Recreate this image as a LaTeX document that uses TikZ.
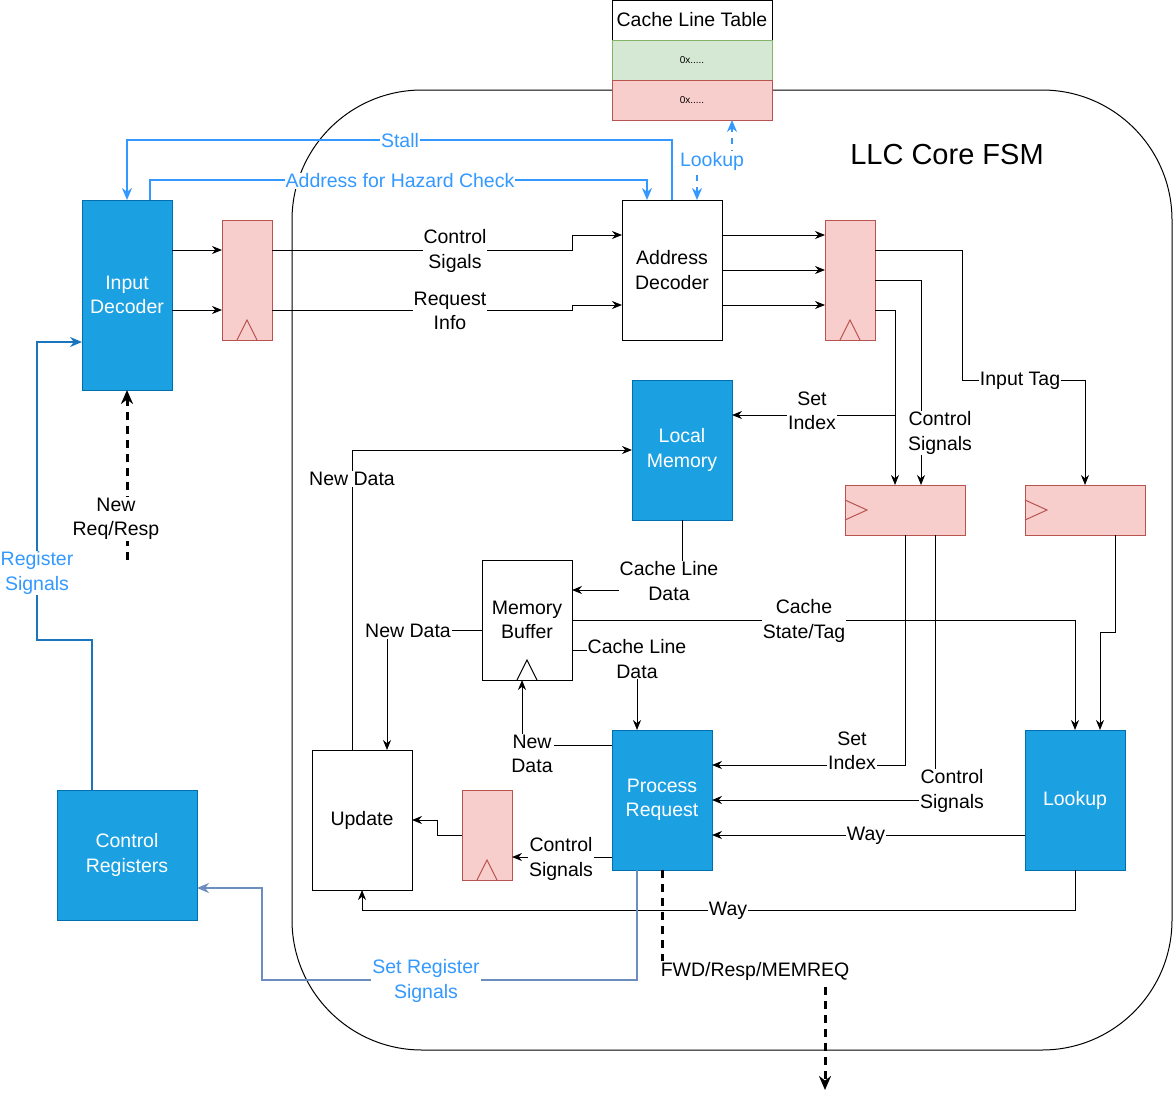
\documentclass[tikz,border=0pt]{standalone}
\usepackage{fontspec}
\setmainfont{Liberation Sans}
\usetikzlibrary{arrows.meta,calc}
\definecolor{fsmblue}{HTML}{1BA1E2}
\definecolor{fsmedge}{HTML}{006EAF}
\definecolor{regfill}{HTML}{F8CECC}
\definecolor{regedge}{HTML}{B85450}
\definecolor{okfill}{HTML}{D5E8D4}
\definecolor{okedge}{HTML}{82B366}
\definecolor{sigblue}{HTML}{3399FF}
\definecolor{regsig}{HTML}{1B75BC}
\definecolor{setsig}{HTML}{6C8EBF}
\newcommand{\clkup}[2][regedge]{\draw[#1] (#2.south) ++(-10,0) -- ++(10,-20) -- ++(10,20);}
\newcommand{\clkleft}[1]{\draw[regedge] (#1.west) ++(0,-10) -- ++(22,10) -- ++(-22,10);}
\begin{document}
\begin{tikzpicture}[x=1pt,y=-1pt,line width=1pt,
    every node/.style={font=\fontsize{19.5}{24.5}\selectfont},
    box/.style={draw,fill=white,inner sep=0pt,outer sep=0pt,align=center},
    fsm/.style={box,draw=fsmedge,fill=fsmblue,text=white},
    reg/.style={box,draw=regedge,fill=regfill},
    lbl/.style={fill=white,inner sep=1pt,align=center,yshift=-1pt},
    blbl/.style={lbl,text=sigblue},
    wire/.style={-{Stealth[length=10pt,width=8pt]}},
    bwire/.style={line width=2pt,-{Stealth[length=12pt,width=10pt]}},
    bus/.style={line width=3pt,dash pattern=on 8pt off 6pt,-{Stealth[length=14pt,width=12pt]}}]
  \useasboundingbox (0,0) rectangle (1173,1100);
  % core
  \node[draw,rounded corners=130pt,minimum width=880pt,minimum height=960pt,inner sep=0pt] (core) at (732,570) {};
  \node (title) at (947,155) {\fontsize{29}{34}\selectfont LLC Core FSM};
  % cache line table
  \node[box,minimum width=160pt,minimum height=40pt] (tabhead) at (692,20) {Cache Line Table};
  \node[box,draw=okedge,fill=okfill,minimum width=160pt,minimum height=40pt,font=\fontsize{10}{12}\selectfont] (tabrow1) at (692,60) {0x.....};
  \node[box,draw=regedge,fill=regfill,minimum width=160pt,minimum height=40pt,font=\fontsize{10}{12}\selectfont] (tabrow2) at (692,100) {0x.....};
  % blocks
  \node[fsm,minimum width=90pt,minimum height=190pt] (indec) at (127,295) {Input\\Decoder};
  \node[fsm,minimum width=140pt,minimum height=130pt] (ctrlreg) at (127,855) {Control\\Registers};
  \node[box,minimum width=100pt,minimum height=140pt] (addec) at (672,270) {Address\\Decoder};
  \node[fsm,minimum width=100pt,minimum height=140pt] (locmem) at (682,450) {Local\\Memory};
  \node[box,minimum width=90pt,minimum height=120pt] (membuf) at (527,620) {Memory\\Buffer};
  \node[box,minimum width=100pt,minimum height=140pt] (update) at (362,820) {Update};
  \node[fsm,minimum width=100pt,minimum height=140pt] (procreq) at (662,800) {Process\\Request};
  \node[fsm,minimum width=100pt,minimum height=140pt] (lookup) at (1075,800) {Lookup};
  % registers
  \node[reg,minimum width=50pt,minimum height=120pt] (reg1) at (247,280) {};
  \node[reg,minimum width=50pt,minimum height=120pt] (reg2) at (850,280) {};
  \node[reg,minimum width=120pt,minimum height=50pt] (reg3) at (905,510) {};
  \node[reg,minimum width=120pt,minimum height=50pt] (reg4) at (1085,510) {};
  \node[reg,minimum width=50pt,minimum height=90pt] (reg5) at (487,835) {};
  \clkup{reg1}
  \clkup{reg2}
  \clkup{reg5}
  \clkup[black]{membuf}
  \clkleft{reg3}
  \clkleft{reg4}
  \coordinate (newreq) at (127,560);
  \coordinate (outp) at (825,1090);
  % wires
  \draw[wire] ($(indec.north east)+(0,50)$) -- ($(reg1.north west)+(0,30)$);
  \draw[wire] ($(indec.north east)+(0,110)$) -- ($(reg1.north west)+(0,90)$);
  \draw[wire] ($(reg1.north east)+(0,30)$) -- ++(300,0) |- ($(addec.north west)+(0,35)$);
  \draw[wire] ($(reg1.north east)+(0,90)$) -- ++(300,0) |- ($(addec.north west)+(0,105)$);
  \draw[wire] ($(addec.north east)+(0,35)$) -- ($(reg2.north west)+(0,15)$);
  \draw[wire] ($(addec.north east)+(0,70)$) -- ($(reg2.north west)+(0,50)$);
  \draw[wire] ($(addec.north east)+(0,105)$) -- ($(reg2.north west)+(0,85)$);
  \draw[wire] ($(reg2.north east)+(0,30)$) -| ++(87,130) -- ++(123,0) -- (reg4.north);
  \draw[wire] ($(reg2.north east)+(0,60)$) -| ($(reg3.north west)+(76,0)$);
  \draw[wire] ($(reg2.north east)+(0,90)$) -| ($(reg3.north west)+(50,0)$);
  \draw[wire] ($(reg3.north west)+(50,-70)$) -- ($(locmem.north east)+(0,35)$);
  \draw[wire] (locmem.south) |- ($(membuf.north east)+(0,30)$);
  \draw[wire] ($(membuf.north east)+(0,60)$) -| ($(lookup.north west)+(50,0)$);
  \draw[wire] ($(membuf.north east)+(0,90)$) -| ($(procreq.north west)+(25,0)$);
  \draw[wire] ($(membuf.north west)+(0,70)$) -| ($(update.north west)+(75,0)$);
  \draw[wire] ($(procreq.north west)+(0,15)$) -| ($(membuf.south west)+(40,0)$);
  \draw[wire] ($(update.north west)+(40,0)$) |- ($(locmem.north west)+(0,70)$);
  \draw[wire] ($(reg3.south west)+(60,0)$) |- ($(procreq.north east)+(0,35)$);
  \draw[wire] ($(reg3.south west)+(90,0)$) |- ($(procreq.north east)+(0,70)$);
  \draw[wire] ($(lookup.north west)+(0,105)$) -- ($(procreq.north east)+(0,105)$);
  \draw[wire] ($(reg4.south west)+(90,0)$) -- ++(0,97) -| ($(lookup.north west)+(75,0)$);
  \draw[wire] ($(procreq.north west)+(0,127)$) -- ($(reg5.north east)+(0,67)$);
  \draw[wire] ($(reg5.north west)+(0,45)$) -- ++(-25,0) |- (update.east);
  \draw[wire] (lookup.south) -- ++(0,40) -| (update.south);
  \draw[bus] ($(procreq.south west)+(50,0)$) |- ($(outp)+(0,-120)$) -- (outp);
  \draw[bus] (newreq) -- (indec.south);
  % blue signals
  \draw[bwire,sigblue] ($(addec.north west)+(50,0)$) -- ++(0,-60) -| (indec.north);
  \draw[bwire,sigblue] ($(indec.north west)+(68,0)$) -- ++(0,-20) -| ($(addec.north west)+(25,0)$);
  \draw[sigblue,line width=2pt,dash pattern=on 6pt off 6pt,{Stealth[length=12pt,width=10pt]}-{Stealth[length=12pt,width=10pt]}]
    ($(addec.north west)+(75,0)$) -- ++(0,-40) -| ($(tabrow2.south west)+(120,0)$);
  \draw[bwire,regsig] ($(ctrlreg.north west)+(35,0)$) -- ++(0,-150) -- ++(-55,0) |- ($(indec.north west)+(0,142)$);
  \draw[bwire,setsig] ($(procreq.south west)+(25,0)$) -- ++(0,110) -- ++(-375,0) |- ($(ctrlreg.north east)+(0,98)$);
  % labels
  \node[lbl] (lctl) at (455,250) {Control\\Sigals};
  \node[lbl] (lreq) at (450,310) {Request\\Info};
  \node[lbl] (ltag) at (1020,380) {Input Tag};
  \node[lbl] (lctl2) at (940,432) {Control\\Signals};
  \node[lbl] (lsidx) at (812,410) {Set\\Index};
  \node[lbl] (lcld) at (669,580) {Cache Line\\Data};
  \node[lbl] (lstate) at (804,620) {Cache\\State/Tag};
  \node[lbl] (lcld2) at (637,658) {Cache Line\\Data};
  \node[lbl] (lnew1) at (408,630) {New Data};
  \node[lbl] (lnew2) at (532,753) {New\\Data};
  \node[lbl] (lnew3) at (352,478) {New Data};
  \node[lbl] (lsidx2) at (852,750) {Set\\Index};
  \node[lbl] (lctl3) at (952,790) {Control\\Signals};
  \node[lbl] (lway1) at (866,835) {Way};
  \node[lbl] (lctl4) at (561,858) {Control\\Signals};
  \node[lbl] (lway2) at (728,910) {Way};
  \node[lbl] (lfwd) at (755,970) {FWD/Resp/MEMREQ};
  \node[lbl] (lnreq) at (116,518) {New\\Req/Resp};
  \node[blbl] (lstall) at (400,140) {Stall};
  \node[blbl] (lhaz) at (400,180) {Address for Hazard Check};
  \node[blbl] (llook) at (712,160) {Lookup};
  \node[blbl] (lrsig) at (37,572) {Register\\Signals};
  \node[blbl] (lsrs) at (426,980) {Set Register\\Signals};
\end{tikzpicture}
\end{document}
